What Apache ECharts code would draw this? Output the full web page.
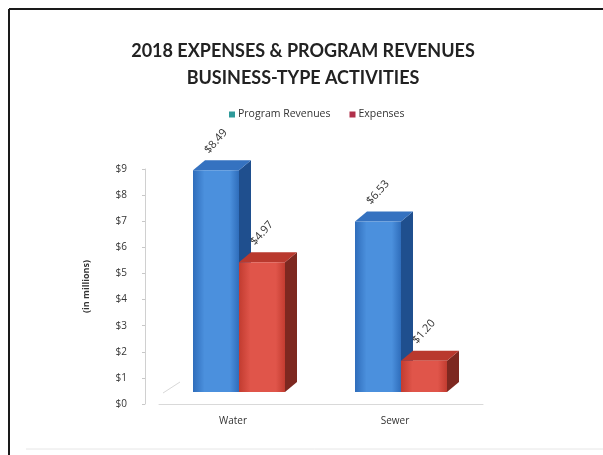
<!DOCTYPE html>
<html>
<head>
<meta charset="utf-8">
<script src="https://cdn.jsdelivr.net/npm/echarts@6/dist/echarts.min.js"></script>
<style>
  html, body { margin: 0; padding: 0; background: #ffffff; }
  #chart { width: 603px; height: 455px; }
</style>
</head>
<body>
<div id="chart"></div>
<script>
// Business-type activities, 2018 (in millions of dollars)
const categories = ['Water', 'Sewer'];
const programRevenues = [8.49, 6.53];
const expenses = [4.97, 1.20];
const seriesNames = ['Program Revenues', 'Expenses'];

// Pseudo-3D column geometry (pixels)
const BAR_W = 46;     // front face width
const DEPTH_X = 12;   // depth offset to the right
const DEPTH_Y = 10;   // depth offset upward
const LIFT = 12;      // front faces sit slightly above the back-wall baseline

const palettes = [
  { front: ['#4b90dd', '#2f6dbb'], top: '#3572c0', side: '#1f4f8e' },
  { front: ['#e0554a', '#c23c30'], top: '#b9392e', side: '#7d2820' }
];

function money(v) { return '$' + v.toFixed(2); }

function makeRenderer(slot) {
  const pal = palettes[slot];
  return function (params, api) {
    const idx = api.value(0);
    const val = api.value(1);
    const topPt = api.coord([idx, val]);
    const basePt = api.coord([idx, 0]);
    const x0 = topPt[0] + (slot === 0 ? -BAR_W - 1 : -1);
    const x1 = x0 + BAR_W;
    const yTop = topPt[1] - LIFT;
    const yBot = basePt[1] - LIFT;
    const frontStyle = {
      fill: new echarts.graphic.LinearGradient(0, 0, 1, 0, [
        { offset: 0, color: pal.front[1] },
        { offset: 0.25, color: pal.front[0] },
        { offset: 0.8, color: pal.front[0] },
        { offset: 1, color: pal.front[1] }
      ])
    };
    const lx = (x0 + x1) / 2;
    const ly = yTop - DEPTH_Y / 2 - 24;
    return {
      type: 'group',
      children: [
        {
          type: 'polygon',
          shape: { points: [[x1, yTop], [x1 + DEPTH_X, yTop - DEPTH_Y], [x1 + DEPTH_X, yBot - DEPTH_Y], [x1, yBot]] },
          style: { fill: pal.side }
        },
        {
          type: 'polygon',
          shape: { points: [[x0, yTop], [x0 + DEPTH_X, yTop - DEPTH_Y], [x1 + DEPTH_X, yTop - DEPTH_Y], [x1, yTop]] },
          style: { fill: pal.top }
        },
        {
          type: 'rect',
          shape: { x: x0, y: yTop, width: BAR_W, height: yBot - yTop },
          style: frontStyle
        },
        {
          type: 'text',
          x: lx, y: ly,
          rotation: Math.PI * 0.27,
          style: {
            text: money(val),
            fill: '#333333',
            font: '11px "Open Sans", sans-serif',
            align: 'center',
            verticalAlign: 'middle'
          }
        }
      ]
    };
  };
}

const chart = echarts.init(document.getElementById('chart'), null, { renderer: 'canvas' });

chart.setOption({
  backgroundColor: '#ffffff',
  animation: false,
  title: {
    text: '2018 EXPENSES & PROGRAM REVENUES\nBUSINESS-TYPE ACTIVITIES',
    left: 298,
    top: 33,
    textAlign: 'center',
    textStyle: {
      fontFamily: 'Lato',
      fontWeight: 'bold',
      fontSize: 18,
      lineHeight: 27,
      color: '#222222'
    }
  },
  legend: {
    data: [
      { name: seriesNames[0], itemStyle: { color: '#2f9a9a' } },
      { name: seriesNames[1], itemStyle: { color: '#b0304a' } }
    ],
    left: 224,
    top: 104,
    itemWidth: 6,
    itemHeight: 6,
    itemGap: 19,
    icon: 'rect',
    textStyle: { fontFamily: 'Open Sans', fontSize: 10.5, color: '#333333', padding: [0, 0, 0, -2] }
  },
  grid: {
    left: 159,
    right: 120,
    top: 169,
    bottom: 51,
    containLabel: false
  },
  xAxis: {
    type: 'category',
    data: categories,
    axisLine: { show: true, lineStyle: { color: '#d9d9d9', width: 1 } },
    axisTick: { show: false },
    axisLabel: { color: '#333333', fontFamily: 'Open Sans', fontSize: 10, margin: 12, padding: [0, 14, 0, 0] }
  },
  yAxis: {
    type: 'value',
    min: 0,
    max: 9,
    interval: 1,
    offset: 14,
    name: '(in millions)',
    nameLocation: 'middle',
    nameGap: 54,
    nameRotate: 90,
    nameTextStyle: { fontFamily: 'Open Sans', fontWeight: 'bold', fontSize: 9, color: '#333333' },
    axisLine: { show: true, lineStyle: { color: '#d0d0d0' } },
    axisTick: { show: true, length: 3, lineStyle: { color: '#c8c8c8' } },
    splitLine: { show: false },
    axisLabel: {
      color: '#333333',
      fontFamily: 'Open Sans',
      fontSize: 10,
      margin: 18,
      formatter: function (v) { return '$' + v; }
    }
  },
  graphic: [
    { type: 'line', shape: { x1: 9, y1: 9, x2: 603, y2: 9 }, style: { stroke: '#1a1a1a', lineWidth: 2 } },
    { type: 'line', shape: { x1: 9, y1: 9, x2: 9, y2: 455 }, style: { stroke: '#1a1a1a', lineWidth: 2 } },
    { type: 'line', shape: { x1: 26, y1: 449, x2: 603, y2: 449 }, style: { stroke: '#e6e6e6', lineWidth: 1 } },
    { type: 'line', shape: { x1: 163, y1: 393, x2: 180, y2: 382 }, style: { stroke: '#d8d8d8', lineWidth: 1 } }
  ],
  series: [
    {
      name: seriesNames[0],
      type: 'custom',
      renderItem: makeRenderer(0),
      encode: { x: 0, y: 1 },
      itemStyle: { color: '#2f9a9a' },
      data: categories.map(function (c, i) { return [i, programRevenues[i]]; })
    },
    {
      name: seriesNames[1],
      type: 'custom',
      renderItem: makeRenderer(1),
      encode: { x: 0, y: 1 },
      itemStyle: { color: '#b0304a' },
      data: categories.map(function (c, i) { return [i, expenses[i]]; })
    }
  ]
});
</script>
</body>
</html>
